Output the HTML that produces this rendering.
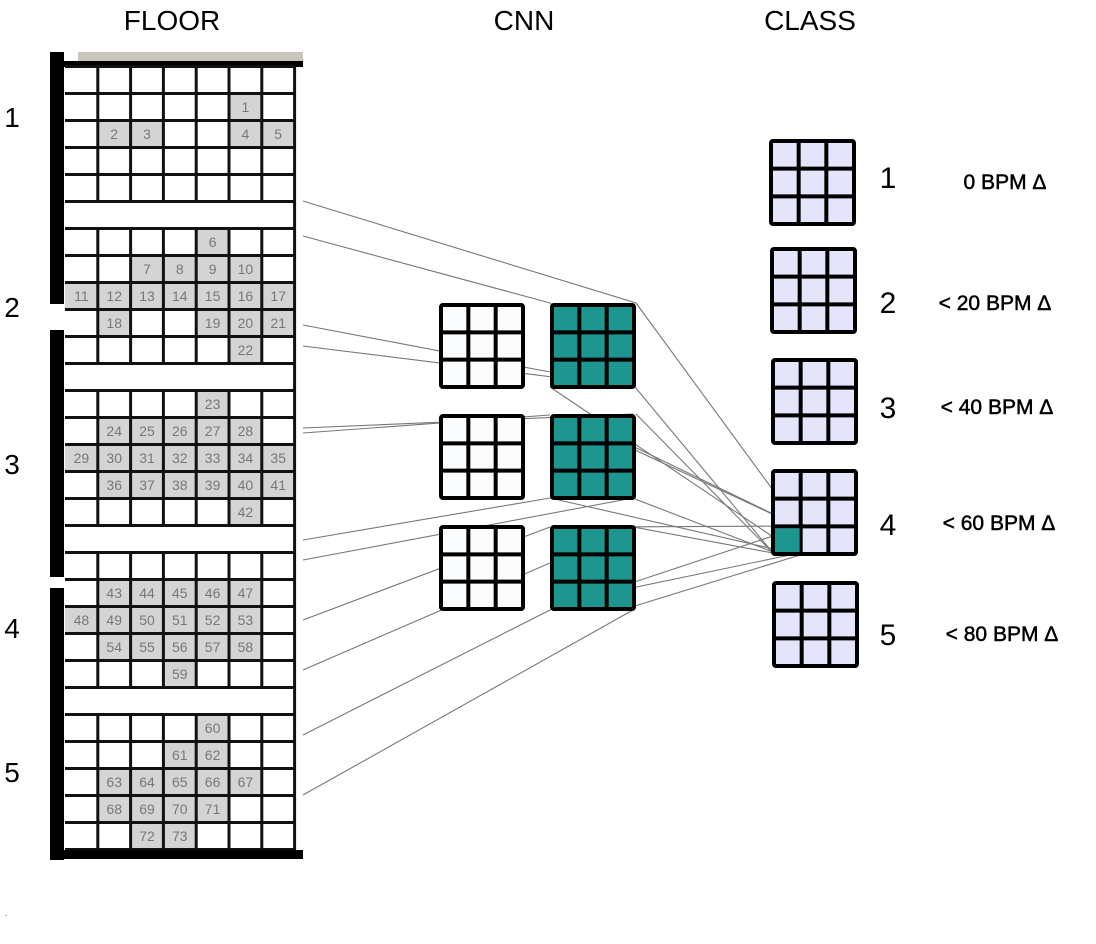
<!DOCTYPE html>
<html><head><meta charset="utf-8"><style>
body{margin:0;background:#fff;}
svg{display:block;font-family:"Liberation Sans","DejaVu Sans",sans-serif;}
</style></head><body>
<svg id="fig" width="1096" height="944" viewBox="0 0 1096 944" xmlns="http://www.w3.org/2000/svg">
<g id="titles">
<text x="172" y="30" font-size="28" text-anchor="middle">FLOOR</text>
<text x="524" y="30" font-size="28" text-anchor="middle">CNN</text>
<text x="810" y="30" font-size="28" text-anchor="middle">CLASS</text>
</g>
<g id="floor"></g>
<g id="links"></g>
<g id="cnn"></g>
<g id="cls"></g>
<text x="5" y="916" font-size="8">.</text>
</svg>
<script>
const NS="http://www.w3.org/2000/svg";
// gray cells per floor: [row, col, label]
const floorCells=[
 [[1,5,"1"],[2,1,"2"],[2,2,"3"],[2,5,"4"],[2,6,"5"]],
 [[0,4,"6"],[1,2,"7"],[1,3,"8"],[1,4,"9"],[1,5,"10"],[2,0,"11"],[2,1,"12"],[2,2,"13"],[2,3,"14"],[2,4,"15"],[2,5,"16"],[2,6,"17"],[3,1,"18"],[3,4,"19"],[3,5,"20"],[3,6,"21"],[4,5,"22"]],
 [[0,4,"23"],[1,1,"24"],[1,2,"25"],[1,3,"26"],[1,4,"27"],[1,5,"28"],[2,0,"29"],[2,1,"30"],[2,2,"31"],[2,3,"32"],[2,4,"33"],[2,5,"34"],[2,6,"35"],[3,1,"36"],[3,2,"37"],[3,3,"38"],[3,4,"39"],[3,5,"40"],[3,6,"41"],[4,5,"42"]],
 [[1,1,"43"],[1,2,"44"],[1,3,"45"],[1,4,"46"],[1,5,"47"],[2,0,"48"],[2,1,"49"],[2,2,"50"],[2,3,"51"],[2,4,"52"],[2,5,"53"],[3,1,"54"],[3,2,"55"],[3,3,"56"],[3,4,"57"],[3,5,"58"],[4,3,"59"]],
 [[0,4,"60"],[1,3,"61"],[1,4,"62"],[2,1,"63"],[2,2,"64"],[2,3,"65"],[2,4,"66"],[2,5,"67"],[3,1,"68"],[3,2,"69"],[3,3,"70"],[3,4,"71"],[4,2,"72"],[4,3,"73"]]
];
const floorLabels=["1","2","3","4","5"];
const floorLabelY=[117,307,464,628,772];
const classNames=["1","2","3","4","5"];
const classDesc=["0 BPM Δ","< 20 BPM Δ","< 40 BPM Δ","< 60 BPM Δ","< 80 BPM Δ"];

function el(tag,attrs,parent){const e=document.createElementNS(NS,tag);for(const k in attrs)e.setAttribute(k,attrs[k]);parent.appendChild(e);return e;}
const X0=65,CW=32.8,Y0=66.5,RH=27;
const fl=document.getElementById('floor');
let r=el('rect',{x:78,y:52,width:225,height:10,fill:'#c8c6bd'},fl);


el('rect',{x:62,y:61,width:241,height:6,fill:'#000'},fl);
el('rect',{x:X0,y:Y0,width:CW*7,height:RH*30-26,fill:'#fff'},fl);
floorCells.forEach((cells,f)=>{
  cells.forEach(c=>{
    const x=X0+c[1]*CW, y=Y0+(f*6+c[0])*RH;
    const g=el('rect',{x:x,y:y,width:CW,height:RH,fill:'#d4d4d4'},fl);
    
    
    const t=el('text',{x:x+CW/2,y:y+RH/2+5,'font-size':14,'text-anchor':'middle',fill:'#777'},fl);
    t.textContent=c[2];
  });
  const fy=Y0+f*6*RH;
  for(let i=0;i<=5;i++) el('line',{x1:X0,x2:X0+CW*7,y1:fy+i*RH,y2:fy+i*RH,stroke:'#111','stroke-width':3},fl);
  for(let j=1;j<7;j++) el('line',{x1:X0+j*CW,x2:X0+j*CW,y1:fy,y2:fy+5*RH,stroke:'#111','stroke-width':3},fl);
  if(f<4) el('line',{x1:X0,x2:X0+CW*7,y1:fy+6*RH,y2:fy+6*RH,stroke:'#111','stroke-width':3},fl);
  const lt=el('text',{x:12,y:floorLabelY[f]+10,'font-size':28,'text-anchor':'middle'},fl);
  
  
  lt.textContent=floorLabels[f];
});
el('line',{x1:X0+CW*7,x2:X0+CW*7,y1:Y0,y2:852,stroke:'#111','stroke-width':3},fl);
el('rect',{x:50,y:52,width:14,height:252},fl);
el('rect',{x:50,y:330,width:14,height:247},fl);
el('rect',{x:50,y:588,width:14,height:272},fl);
el('rect',{x:50,y:850,width:253,height:9},fl);

const lk=document.getElementById('links');
const segs=[[303,201,636,303],[303,236,550,303],[550,303,635,387],[303,325,550,372],[303,346,633,387],
[303,428,633,414],[303,433,550,415],[303,540,550,498],[303,560,633,498],[303,620,550,527],[303,670,633,527],
[303,735,550,610],[303,795,633,610],
[636,303,800,527],[635,387,773,553],[550,387,800,555],[636,414,773,553],[560,415,800,527],[620,440,800,527],[635,499,773,552],
[550,498,800,555],[605,527,800,526],[633,527,773,553],[622,590,790,555],[622,610,800,555],[550,610,800,527]];
segs.forEach(s=>el('line',{x1:s[0],y1:s[1],x2:s[2],y2:s[3],stroke:'#777','stroke-width':1.1},lk));

function grid3(parent,x,y,s,fill,name){
  const g=el('g',{},parent);
  
  
  el('rect',{x:x,y:y,width:s,height:s,fill:fill,stroke:'#000','stroke-width':4,rx:2},g);
  for(let i=1;i<3;i++){
    el('line',{x1:x+i*s/3,x2:x+i*s/3,y1:y,y2:y+s,stroke:'#000','stroke-width':4},g);
    el('line',{x1:x,x2:x+s,y1:y+i*s/3,y2:y+i*s/3,stroke:'#000','stroke-width':4},g);
  }
  return g;
}
const cn=document.getElementById('cnn');
[303,414,525].forEach((y,i)=>{
  grid3(cn,441,y+2,82,'#fbfcfe','cnn-input-'+(i+1));
  grid3(cn,552,y+2,82,'#1d9690','cnn-filter-'+(i+1));
});
const cl=document.getElementById('cls');
const cx=[771,772,773,773,774], cy=[141,249,360,471,583];
const descX=[1005,995,997,999,1002];
for(let i=0;i<5;i++){
  const g=grid3(cl,cx[i],cy[i],83,'#e4e4fa','class-box-'+classNames[i]);
  if(i===3){
    const t=el('rect',{x:cx[i]+2,y:cy[i]+83*2/3+2,width:83/3-3,height:83/3-4,fill:'#1d9690'},g);
    
    
  }
  const n=el('text',{x:888,y:[188,313,418,535,645][i],'font-size':30,'text-anchor':'middle'},cl);
  
  
  n.textContent=classNames[i];
  const d=el('text',{x:descX[i],y:[189,310,414,530,641][i],'font-size':21,'stroke':'#000','stroke-width':0.5,'text-anchor':'middle'},cl);
  
  
  d.textContent=classDesc[i];
}
</script>
</body></html>
